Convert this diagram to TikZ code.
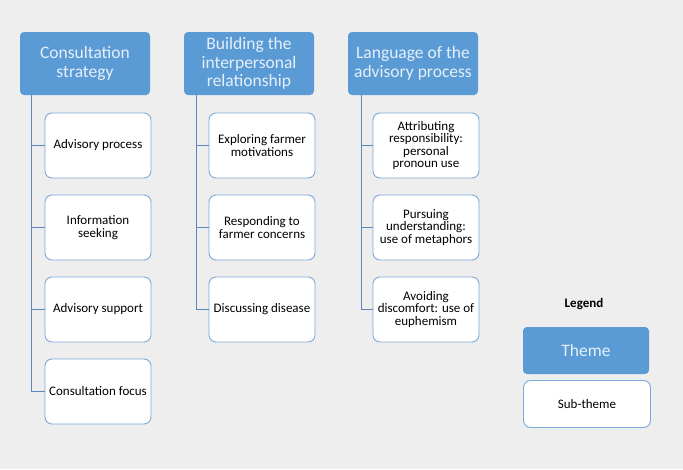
\documentclass[tikz,border=0pt]{standalone}
\usepackage{fontspec}
\setmainfont{Carlito}
\usetikzlibrary{calc}

\definecolor{bgGray}{HTML}{EEEEEE}
\definecolor{themeBlue}{HTML}{5B9BD5}
\definecolor{themeText}{HTML}{E4EFFA}
\definecolor{subBorder}{HTML}{7EA9D8}
\definecolor{spineBlue}{HTML}{5C87BC}

\tikzset{
	theme/.style={rectangle,rounded corners=4pt,fill=themeBlue,text=themeText,
		minimum width=130pt,minimum height=63pt,align=center,inner sep=1pt,
		font=\fontsize{17.5}{18.5}\selectfont},
	subtheme/.style={rectangle,rounded corners=7pt,draw=subBorder,line width=0.9pt,fill=white,
		minimum width=106pt,minimum height=65pt,align=center,inner sep=1pt,
		font=\fontsize{13}{12.5}\selectfont},
	spine/.style={draw=spineBlue,line width=1.3pt},
}

\begin{document}
\begin{tikzpicture}[x=1pt,y=-1pt]
	\fill [bgGray] (0,0) rectangle (683,469);
	\useasboundingbox (0,0) rectangle (683,469);

	% themes
	\node [theme] (cs) at (85,63.5) {Consultation\\strategy};
	\node [theme] (bir) at (249,63.5) {Building the\\interpersonal\\relationship};
	\node [theme] (lap) at (413,63.5) {Language of the\\advisory process};

	% sub-themes
	\node [subtheme] (cs1) at (98,145.5) {Advisory process};
	\node [subtheme] (cs2) at (98,227.5) {Information\\seeking};
	\node [subtheme] (cs3) at (98,309.5) {Advisory support};
	\node [subtheme] (cs4) at (98,391.5) {Consultation focus};

	\node [subtheme] (bir1) at (262,145.5) {Exploring farmer\\motivations};
	\node [subtheme] (bir2) at (262,227.5) {Responding to\\farmer concerns};
	\node [subtheme] (bir3) at (262,309.5) {Discussing disease};

	\node [subtheme] (lap1) at (426,145.5) {Attributing\\responsibility:\\personal\\pronoun use};
	\node [subtheme] (lap2) at (426,227.5) {Pursuing\\understanding:\\use of metaphors};
	\node [subtheme] (lap3) at (426,309.5) {Avoiding\\discomfort: use of\\euphemism};

	% spines
	\coordinate (csTop) at ($(cs.south west)+(12,0)$);
	\coordinate (birTop) at ($(bir.south west)+(13,0)$);
	\coordinate (lapTop) at ($(lap.south west)+(14,0)$);
	\foreach \n in {cs1,cs2,cs3,cs4}
		\path [spine] (csTop) |- (\n.west);
	\foreach \n in {bir1,bir2,bir3}
		\path [spine] (birTop) |- (\n.west);
	\foreach \n in {lap1,lap2,lap3}
		\path [spine] (lapTop) |- (\n.west);

	% legend
	\node [font=\bfseries\fontsize{13}{13}\selectfont] (legend) at (584,304) {Legend};
	\node [theme,minimum width=126pt,minimum height=47pt] (keyTheme) at (586,350.5) {Theme};
	\node [subtheme,minimum width=127pt,minimum height=47pt] (keySub) at (587,404) {Sub-theme};
\end{tikzpicture}
\end{document}
